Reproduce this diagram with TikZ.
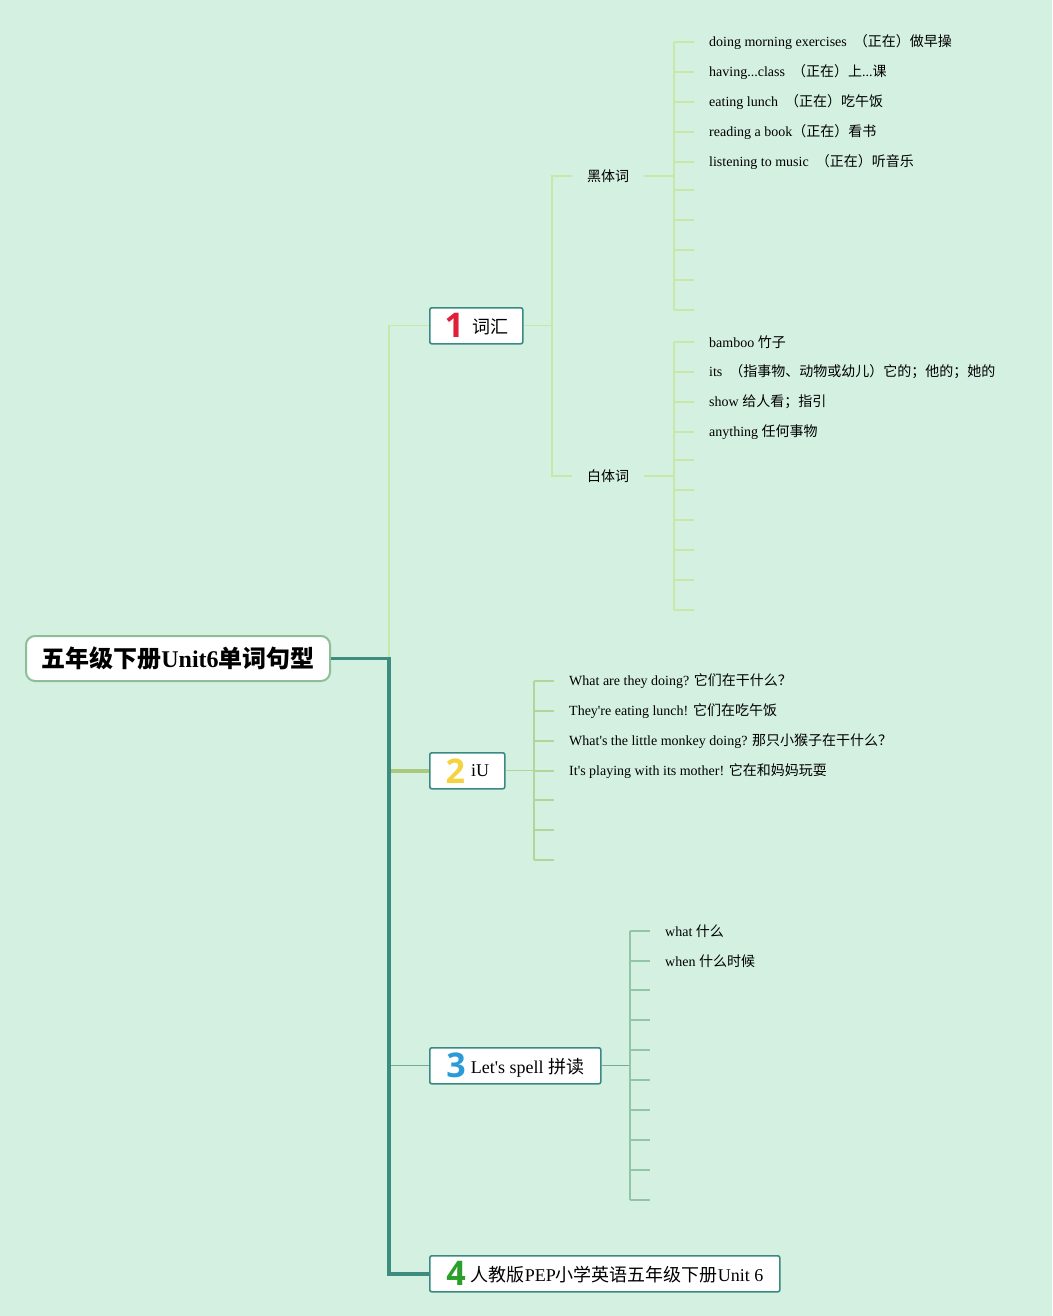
\documentclass[tikz,border=0pt]{standalone}
\usepackage{fontspec}
\setmainfont{Liberation Serif}[Ligatures=TeXOff]
\newfontfamily\cjk{Noto Sans CJK SC}
\newfontfamily\digitfont{Open Sans}
\definecolor{bg}{HTML}{D4F0E1}
\definecolor{trunk}{HTML}{3C8C80}
\definecolor{bone}{HTML}{C9E7A8}
\definecolor{btwo}{HTML}{A9C97F}
\definecolor{btwoc}{HTML}{B4D59A}
\definecolor{bthree}{HTML}{6FAF8F}
\definecolor{bthreec}{HTML}{93C4A6}
\definecolor{rootborder}{HTML}{8CBF98}
\definecolor{boxborder}{HTML}{3A8A84}
\definecolor{dred}{HTML}{E0203A}
\definecolor{dyellow}{HTML}{F5D33F}
\definecolor{dblue}{HTML}{2A9AD8}
\definecolor{dgreen}{HTML}{2AA02A}
\newcommand{\dig}[2]{\raisebox{-4pt}{\digitfont\bfseries\fontsize{34}{34}\selectfont\color{#1}#2}}
\tikzset{
  mainbox/.style={draw=rootborder, line width=2pt, rounded corners=9pt, fill=white,
    minimum width=304pt, minimum height=45pt, anchor=north west, inner sep=0pt},
  topicbox/.style={draw=boxborder, line width=1.6pt, rounded corners=2pt, fill=white,
    minimum height=36pt, anchor=north west, inner sep=0pt, font=\fontsize{18}{20}\selectfont},
  leaf/.style={anchor=west, inner sep=0pt, font=\fontsize{14}{16}\selectfont},
  subtopic/.style={anchor=west, inner sep=0pt, font=\cjk\fontsize{14}{16}\selectfont},
  lone/.style={bone, line width=1.3pt},
  ltwo/.style={btwoc, line width=1.3pt},
  lthree/.style={bthreec, line width=1.3pt},
}
\begin{document}
\begin{tikzpicture}[x=1pt,y=-1pt]
\fill[bg] (0,0) rectangle (1052,1316);
\useasboundingbox (0,0) rectangle (1052,1316);

% nodes
\node[mainbox] (root) at (25,635) {\fontsize{24}{26}\selectfont{\cjk\bfseries 五年级下册}\textbf{Unit6}{\cjk\bfseries 单词句型}};
\node[topicbox, minimum width=93pt] (t1) at (429,307) {\dig{dred}{1}\hspace{8pt}{\cjk 词汇}};
\node[topicbox, minimum width=75pt] (t2) at (429,752) {\dig{dyellow}{2}\hspace{6pt}\raisebox{3pt}{iU}};
\node[topicbox, minimum width=171pt] (t3) at (429,1047) {\dig{dblue}{3}\hspace{5pt}Let's spell {\cjk 拼读}};
\node[topicbox, minimum width=350pt] (t4) at (429,1255) {\dig{dgreen}{4}\hspace{5pt}{\cjk 人教版}PEP{\cjk 小学英语五年级下册}Unit 6};

% trunk x
\coordinate (tx) at (389,0);

% branch 1 (light)
\draw[lone] (root.east -| tx) -- (t1.west -| tx) -- (t1.west);
% branch 2
\draw[btwo, line width=4pt] (t2.west -| tx) -- (t2.west);
% branch 3
\draw[bthree, line width=1.3pt] (t3.west -| tx) -- (t3.west);
% trunk
\draw[trunk, line width=3.5pt] (root.east) -- (root.east -| tx) -- (t4.west -| tx) -- (t4.west);

% ---- branch 1 children
\node[subtopic] (s1) at (587,176) {黑体词};
\node[subtopic] (s2) at (587,476) {白体词};
\coordinate (bx) at (552,0);
\draw[lone] (t1.east) -- (t1.east -| bx);
\draw[lone] ([xshift=-15pt]s1.west) -- (s1.west -| bx) -- (s2.west -| bx) -- ([xshift=-15pt]s2.west);

% leaves of 黑体词
\coordinate (vx) at (674,0);
\node[leaf] (a1) at (709,42) {doing morning exercises \ {\cjk （正在）做早操}};
\node[leaf] (a2) at (709,72) {having...class \ {\cjk （正在）上}...{\cjk 课}};
\node[leaf] (a3) at (709,102) {eating lunch \ {\cjk （正在）吃午饭}};
\node[leaf] (a4) at (709,132) {reading a book{\cjk （正在）看书}};
\node[leaf] (a5) at (709,162) {listening to music \ {\cjk （正在）听音乐}};
\coordinate (e1end) at (674,310);
\draw[lone] ([xshift=15pt]s1.east) -- (s1.east -| vx);
\draw[lone] (a1.west -| vx) -- (e1end);
\foreach \i in {1,...,5}{
  \draw[lone] (a\i.west -| vx) -- ([xshift=-15pt]a\i.west);
}
\foreach \y in {190,220,250,280,310}{
  \coordinate (e1-\y) at (674,\y);
  \draw[lone] (e1-\y) -- ++(20,0);
}

% leaves of 白体词
\node[leaf] (c1) at (709,342) {bamboo {\cjk 竹子}};
\node[leaf] (c2) at (709,372) {its \ {\cjk （指事物、动物或幼儿）它的；他的；她的}};
\node[leaf] (c3) at (709,402) {show {\cjk 给人看；指引}};
\node[leaf] (c4) at (709,432) {anything {\cjk 任何事物}};
\coordinate (e2end) at (674,610);
\draw[lone] ([xshift=15pt]s2.east) -- (s2.east -| vx);
\draw[lone] (c1.west -| vx) -- (e2end);
\foreach \i in {1,...,4}{
  \draw[lone] (c\i.west -| vx) -- ([xshift=-15pt]c\i.west);
}
\foreach \y in {460,490,520,550,580,610}{
  \coordinate (e2-\y) at (674,\y);
  \draw[lone] (e2-\y) -- ++(20,0);
}

% ---- branch 2 children
\coordinate (wx) at (534,0);
\node[leaf] (d1) at (569,681) {What are they doing? {\cjk 它们在干什么？}};
\node[leaf] (d2) at (569,711) {They're eating lunch! {\cjk 它们在吃午饭}};
\node[leaf] (d3) at (569,741) {What's the little monkey doing? {\cjk 那只小猴子在干什么？}};
\node[leaf] (d4) at (569,771) {It's playing with its mother! {\cjk 它在和妈妈玩耍}};
\coordinate (e3end) at (534,860);
\draw[ltwo] (t2.east) -- (t2.east -| wx);
\draw[ltwo] (d1.west -| wx) -- (e3end);
\foreach \i in {1,...,4}{
  \draw[ltwo] (d\i.west -| wx) -- ([xshift=-15pt]d\i.west);
}
\foreach \y in {800,830,860}{
  \coordinate (e3-\y) at (534,\y);
  \draw[ltwo] (e3-\y) -- ++(20,0);
}

% ---- branch 3 children
\coordinate (ux) at (630,0);
\node[leaf] (f1) at (665,931) {what {\cjk 什么}};
\node[leaf] (f2) at (665,961) {when {\cjk 什么时候}};
\coordinate (e4end) at (630,1200);
\draw[bthree, line width=1.3pt] (t3.east) -- (t3.east -| ux);
\draw[lthree] (f1.west -| ux) -- (e4end);
\foreach \i in {1,2}{
  \draw[lthree] (f\i.west -| ux) -- ([xshift=-15pt]f\i.west);
}
\foreach \y in {990,1020,1050,1080,1110,1140,1170,1200}{
  \coordinate (e4-\y) at (630,\y);
  \draw[lthree] (e4-\y) -- ++(20,0);
}
\end{tikzpicture}
\end{document}
